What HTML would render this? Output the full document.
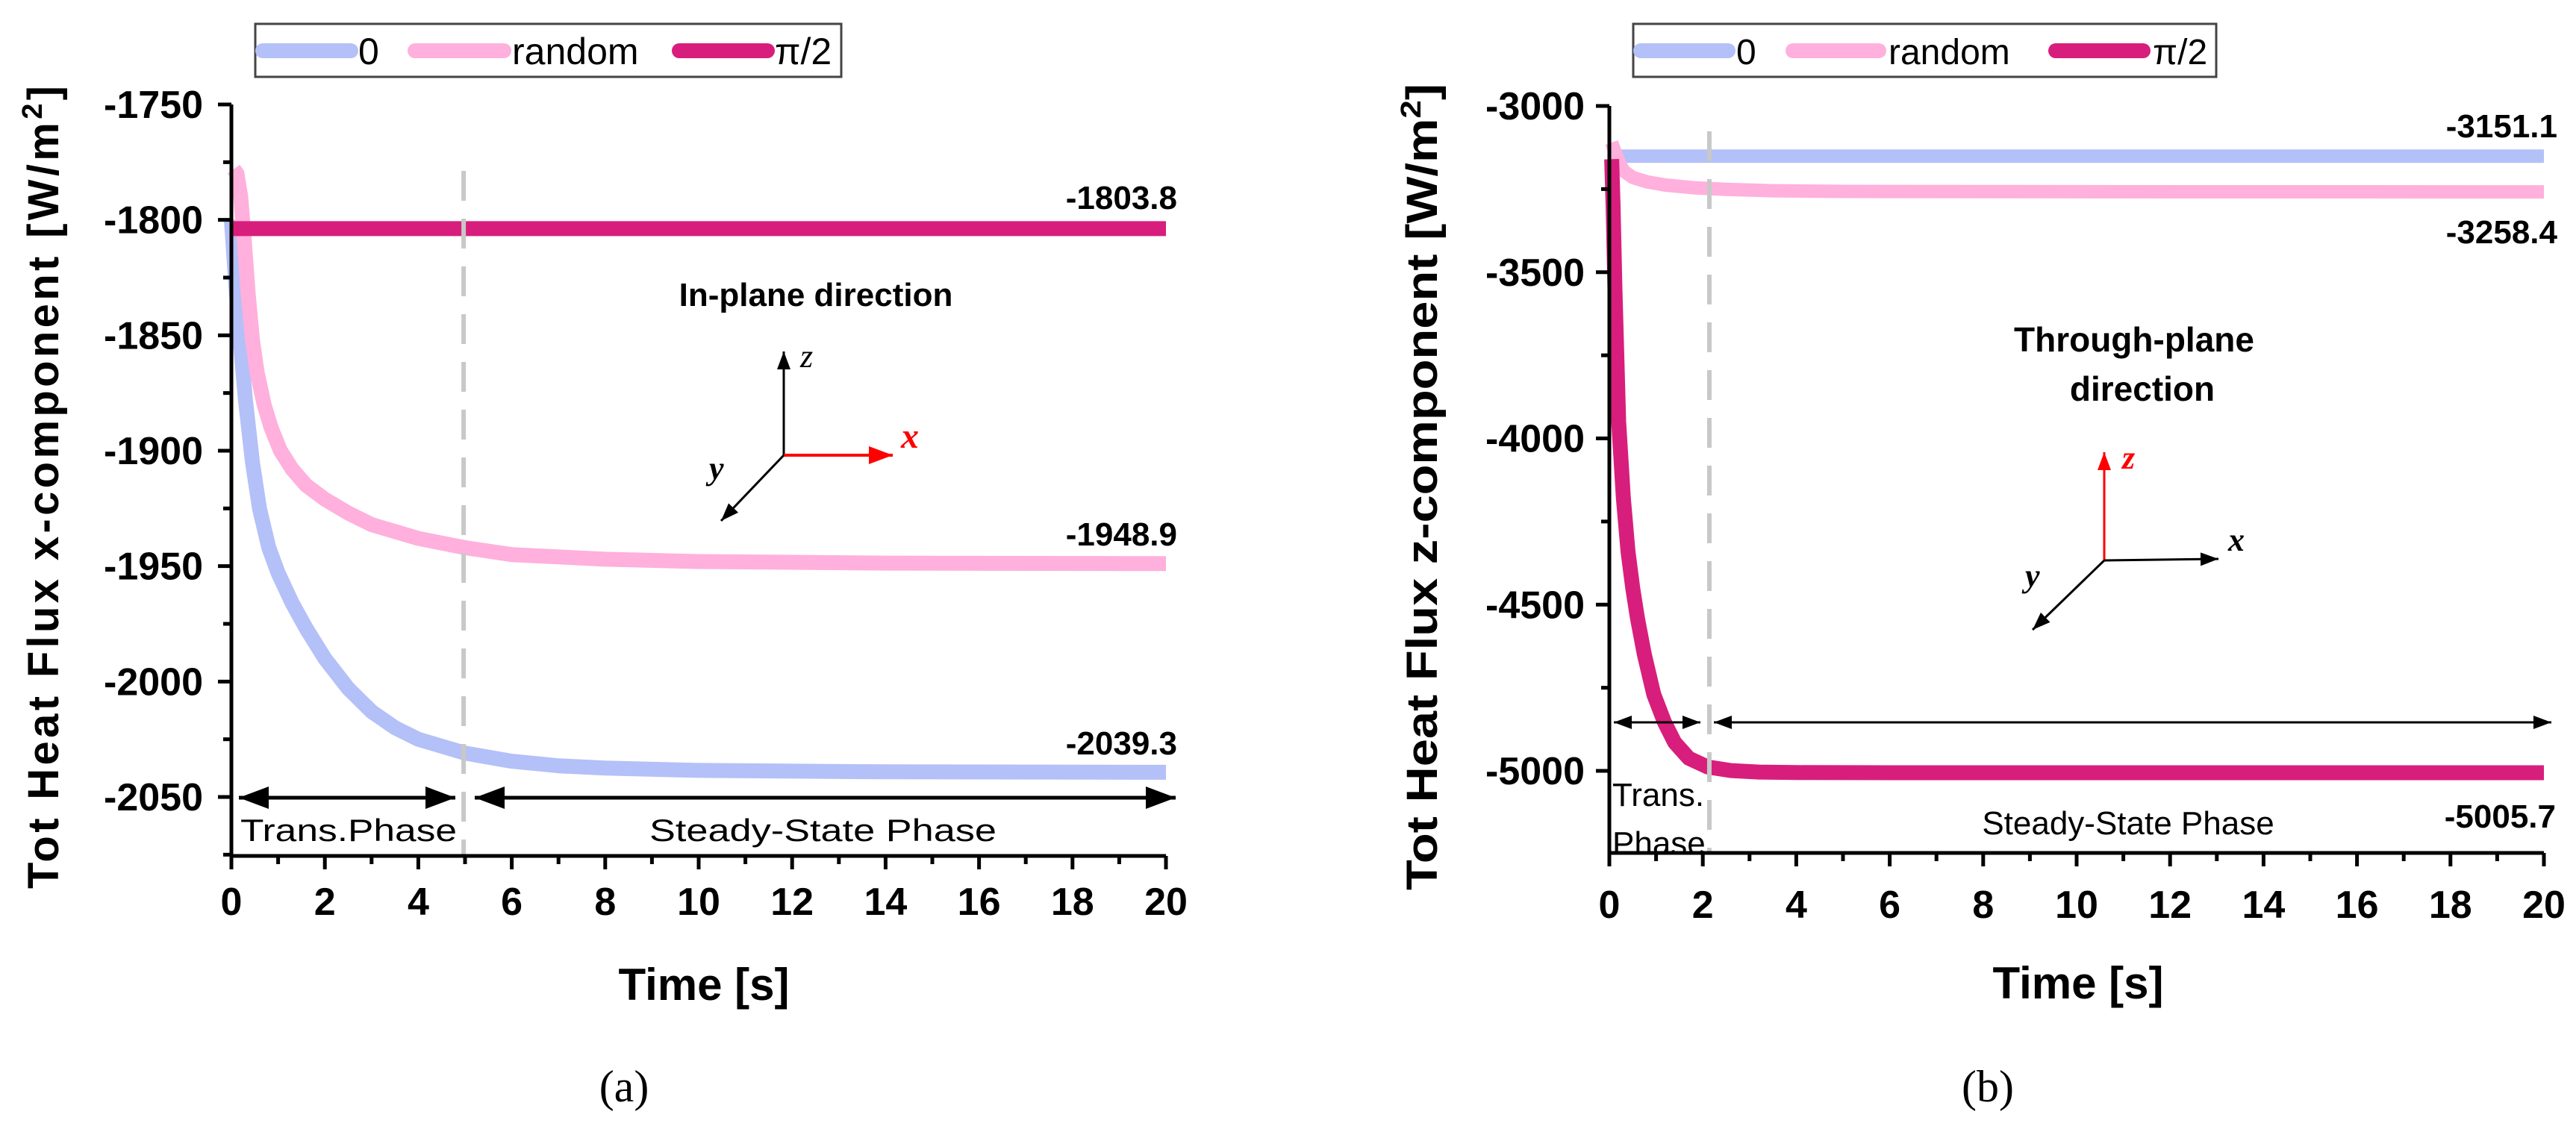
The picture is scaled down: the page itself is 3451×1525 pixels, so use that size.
<!DOCTYPE html>
<html><head><meta charset="utf-8"><style>
html,body{margin:0;padding:0;background:#fff;}
svg{display:block;font-family:"Liberation Sans",sans-serif;}
</style></head><body>
<svg id="fig" width="3451" height="1525" viewBox="0 0 3451 1525" xmlns="http://www.w3.org/2000/svg">
<g id="pa"></g>
<g id="pb"></g>
</svg>
<script>
// ---- Panel (a) data ----
const xTicks = [0,2,4,6,8,10,12,14,16,18,20];
const yTicksA = [-1750,-1800,-1850,-1900,-1950,-2000,-2050];
const tA0 = [0,0.1,0.2,0.3,0.45,0.6,0.8,1.0,1.3,1.6,2.0,2.5,3.0,3.5,4.0,5.0,6.0,7.0,8.0,10,14,20];
const vA0 = [-1800,-1830,-1855,-1878,-1905,-1925,-1942,-1953,-1966,-1977,-1990,-2003,-2013,-2020,-2025,-2031,-2034.5,-2036.5,-2037.5,-2038.5,-2039.1,-2039.3];
const tARand = [0.05,0.12,0.2,0.28,0.36,0.45,0.55,0.7,0.85,1.05,1.3,1.6,2.0,2.5,3.0,4.0,5.0,6.0,8.0,10,14,20];
const vARand = [-1778,-1780,-1790,-1810,-1832,-1852,-1866,-1880,-1890,-1900,-1908,-1915,-1921,-1927,-1932,-1938,-1942,-1945,-1947,-1948,-1948.7,-1948.9];
const tAPi = [0,20];
const vAPi = [-1803.8,-1803.8];
// ---- Panel (b) data ----
const yTicksB = [-3000,-3500,-4000,-4500,-5000];
const tB0 = [0.15,20];
const vB0 = [-3151.1,-3151.1];
const tBRand = [0.05,0.15,0.3,0.5,0.8,1.2,1.8,2.5,3.5,5,10,20];
const vBRand = [-3110,-3150,-3195,-3215,-3228,-3238,-3246,-3251,-3255,-3257,-3258,-3258.4];
const tBPi = [0.05,0.08,0.12,0.2,0.3,0.4,0.5,0.6,0.75,0.95,1.18,1.4,1.7,2.1,2.6,3.2,4,6,20];
const vBPi = [-3160,-3300,-3550,-3950,-4180,-4340,-4450,-4540,-4650,-4770,-4854,-4915,-4962,-4988,-4999,-5003.5,-5005.2,-5005.7,-5005.7];

const NS='http://www.w3.org/2000/svg';
const C0='#b4c0f8', CR='#ffb0dc', CP='#d81e7c';
function mk(parent,tag,attrs,text){const e=document.createElementNS(NS,tag);for(const k in attrs)e.setAttribute(k,attrs[k]);if(text!==undefined)e.textContent=text;parent.appendChild(e);return e;}

function panel(g,cfg){
  const sx=t=>cfg.x0+(t-0)/(20-0)*(cfg.x1-cfg.x0);
  const sy=v=>cfg.yTop+(cfg.vTop-v)/(cfg.vTop-cfg.vBot)*(cfg.yBot-cfg.yTop);
  const yAxisBottom=cfg.axisBottom;
  cfg.series.forEach(s=>{
    const pts=s.t.map((t,i)=>sx(t).toFixed(1)+','+sy(s.v[i]).toFixed(1)).join(' ');
    const p=mk(g,'polyline',{points:pts,fill:'none',stroke:s.c,'stroke-width':s.w,'stroke-linejoin':'round'});
    
    
  });
  const d=mk(g,'line',{x1:sx(cfg.div),x2:sx(cfg.div),y1:cfg.divTop,y2:yAxisBottom,stroke:'#c8c8c8','stroke-width':6,'stroke-dasharray':'40 24'});
  
  
  const ax=mk(g,'path',{d:`M${cfg.x0},${sy(cfg.vTop)} V${yAxisBottom} H${cfg.x1}`,fill:'none',stroke:'#000','stroke-width':5});
  
  
  for(let t=0;t<=20;t+=1){
    const maj=t%2===0;
    const tk=mk(g,'line',{x1:sx(t),x2:sx(t),y1:yAxisBottom,y2:yAxisBottom+(maj?18:11),stroke:'#000','stroke-width':5});
    
    
  }
  xTicks.forEach(t=>{
    const l=mk(g,'text',{x:sx(t),y:cfg.xLabelY,'text-anchor':'middle','font-size':52,'font-weight':'bold'},String(t));
    
    
  });
  const step=cfg.yTicks[0]-cfg.yTicks[1];
  cfg.yTicks.forEach((v,i)=>{
    const tk=mk(g,'line',{x1:cfg.x0-18,x2:cfg.x0,y1:sy(v),y2:sy(v),stroke:'#000','stroke-width':5});
    
    
    const mv=v-step/2;
    if(sy(mv)<yAxisBottom){
      const mt=mk(g,'line',{x1:cfg.x0-11,x2:cfg.x0,y1:sy(mv),y2:sy(mv),stroke:'#000','stroke-width':5});
      
      
    }
    const l=mk(g,'text',{x:cfg.yLabelX,y:sy(v)+18,'text-anchor':'end','font-size':52,'font-weight':'bold'},String(v));
    
    
  });
}

const ga=document.getElementById('pa');
panel(ga,{x0:310,x1:1562,yTop:140,yBot:1068,vTop:-1750,vBot:-2050,axisBottom:1147,xLabelY:1226,yLabelX:272,yTicks:yTicksA,div:4.97,divTop:229,
  series:[{t:tA0,v:vA0,c:C0,w:20,name:'series-0'},{t:tARand,v:vARand,c:CR,w:20,name:'series-random'},{t:tAPi,v:vAPi,c:CP,w:20,name:'series-pi-half'}]});
const gb=document.getElementById('pb');
panel(gb,{x0:2156,x1:3408,yTop:142,yBot:1033,vTop:-3000,vBot:-5000,axisBottom:1143,xLabelY:1230,yLabelX:2123,yTicks:yTicksB,div:2.14,divTop:176,
  series:[{t:tB0,v:vB0,c:C0,w:18,name:'series-0'},{t:tBRand,v:vBRand,c:CR,w:18,name:'series-random'},{t:tBPi,v:vBPi,c:CP,w:20,name:'series-pi-half'}]});
</script>

<svg width="3451" height="1525" viewBox="0 0 3451 1525" style="position:absolute;left:0;top:0" font-family="Liberation Sans, sans-serif">
<defs>
<marker id="a1" markerWidth="8" markerHeight="6" refX="8" refY="3" orient="auto" markerUnits="strokeWidth"><path d="M0,0 L8,3 L0,6 z" fill="#000"/></marker>
<marker id="a2" markerWidth="8" markerHeight="6" refX="0" refY="3" orient="auto" markerUnits="strokeWidth"><path d="M8,0 L0,3 L8,6 z" fill="#000"/></marker>
<marker id="a3" markerWidth="8" markerHeight="6" refX="8" refY="3" orient="auto" markerUnits="strokeWidth"><path d="M0,0 L8,3 L0,6 z" fill="#f00"/></marker>
</defs>
<g>
<rect x="342" y="32" width="785" height="71" fill="#fff" stroke="#444" stroke-width="3"/>
<line x1="352" y1="68" x2="470" y2="68" stroke="#b4c0f8" stroke-width="20" stroke-linecap="round"/>
<text x="480" y="86" font-size="50">0</text>
<line x1="556" y1="68" x2="675" y2="68" stroke="#ffb0dc" stroke-width="20" stroke-linecap="round"/>
<text x="686" y="86" font-size="50">random</text>
<line x1="910" y1="68" x2="1028" y2="68" stroke="#d81e7c" stroke-width="20" stroke-linecap="round"/>
<text x="1038" y="86" font-size="50">π/2</text>
</g>
<text x="1577" y="280" font-size="44" font-weight="bold" text-anchor="end">-1803.8</text>
<text x="1577" y="731" font-size="44" font-weight="bold" text-anchor="end">-1948.9</text>
<text x="1577" y="1011" font-size="44" font-weight="bold" text-anchor="end">-2039.3</text>
<text x="1093" y="410" font-size="44" font-weight="bold" text-anchor="middle">In-plane direction</text>
<g>
<line x1="1050" y1="610" x2="1050" y2="471" stroke="#000" stroke-width="3" marker-end="url(#a1)"/>
<line x1="1050" y1="610" x2="1196" y2="610" stroke="#f00" stroke-width="4" marker-end="url(#a3)"/>
<line x1="1050" y1="610" x2="966" y2="698" stroke="#000" stroke-width="3" marker-end="url(#a1)"/>
<text x="1072" y="492" font-size="44" font-style="italic" font-family="Liberation Serif, serif">z</text>
<text x="1207" y="600" font-size="48" font-style="italic" font-weight="bold" fill="#f00" font-family="Liberation Serif, serif">x</text>
<text x="950" y="642" font-size="44" font-style="italic" font-weight="bold" font-family="Liberation Serif, serif">y</text>
</g>
<line x1="320" y1="1069" x2="610" y2="1069" stroke="#000" stroke-width="5" marker-start="url(#a2)" marker-end="url(#a1)"/>
<line x1="636" y1="1069" x2="1575" y2="1069" stroke="#000" stroke-width="5" marker-start="url(#a2)" marker-end="url(#a1)"/>
<text x="322" y="1127" font-size="42" textLength="290" lengthAdjust="spacingAndGlyphs">Trans.Phase</text>
<text x="870" y="1127" font-size="42" textLength="465" lengthAdjust="spacingAndGlyphs">Steady-State Phase</text>
<text x="943" y="1340" font-size="60" font-weight="bold" text-anchor="middle">Time [s]</text>
<text x="836" y="1476" font-size="60" font-family="Liberation Serif, serif" text-anchor="middle">(a)</text>
<text transform="translate(78,1191) rotate(-90)" font-size="58" font-weight="bold" textLength="1076" lengthAdjust="spacing">Tot Heat Flux x-component [W/m<tspan font-size="38" dy="-22">2</tspan><tspan dy="22">]</tspan></text>

<g>
<rect x="2188" y="32" width="781" height="71" fill="#fff" stroke="#444" stroke-width="3"/>
<line x1="2198" y1="68" x2="2315" y2="68" stroke="#b4c0f8" stroke-width="20" stroke-linecap="round"/>
<text x="2326" y="86" font-size="48">0</text>
<line x1="2402" y1="68" x2="2517" y2="68" stroke="#ffb0dc" stroke-width="20" stroke-linecap="round"/>
<text x="2530" y="86" font-size="48">random</text>
<line x1="2754" y1="68" x2="2871" y2="68" stroke="#d81e7c" stroke-width="20" stroke-linecap="round"/>
<text x="2884" y="86" font-size="48">π/2</text>
</g>
<text x="3426" y="184" font-size="44" font-weight="bold" text-anchor="end">-3151.1</text>
<text x="3426" y="326" font-size="44" font-weight="bold" text-anchor="end">-3258.4</text>
<text x="3424" y="1109" font-size="44" font-weight="bold" text-anchor="end">-5005.7</text>
<text x="2859" y="471" font-size="46" font-weight="bold" text-anchor="middle">Through-plane</text>
<text x="2870" y="537" font-size="46" font-weight="bold" text-anchor="middle">direction</text>
<g>
<line x1="2819" y1="751" x2="2819" y2="606" stroke="#f00" stroke-width="3" marker-end="url(#a3)"/>
<line x1="2819" y1="751" x2="2972" y2="749" stroke="#000" stroke-width="3" marker-end="url(#a1)"/>
<line x1="2819" y1="751" x2="2723" y2="844" stroke="#000" stroke-width="3" marker-end="url(#a1)"/>
<text x="2843" y="628" font-size="44" font-style="italic" font-weight="bold" fill="#f00" font-family="Liberation Serif, serif">z</text>
<text x="2985" y="738" font-size="44" font-style="italic" font-weight="bold" font-family="Liberation Serif, serif">x</text>
<text x="2713" y="786" font-size="44" font-style="italic" font-weight="bold" font-family="Liberation Serif, serif">y</text>
</g>
<line x1="2162" y1="968" x2="2278" y2="968" stroke="#000" stroke-width="3" marker-start="url(#a2)" marker-end="url(#a1)"/>
<line x1="2296" y1="968" x2="3418" y2="968" stroke="#000" stroke-width="3" marker-start="url(#a2)" marker-end="url(#a1)"/>
<text x="2160" y="1080" font-size="44">Trans.</text>
<text x="2160" y="1145" font-size="44">Phase</text>
<text x="2851" y="1118" font-size="44" text-anchor="middle">Steady-State Phase</text>
<text x="2784" y="1338" font-size="60" font-weight="bold" text-anchor="middle">Time [s]</text>
<text x="2663" y="1476" font-size="60" font-family="Liberation Serif, serif" text-anchor="middle">(b)</text>
<text transform="translate(1925,1193) rotate(-90)" font-size="58" font-weight="bold" textLength="1081" lengthAdjust="spacingAndGlyphs">Tot Heat Flux z-component [W/m<tspan font-size="38" dy="-22">2</tspan><tspan dy="22">]</tspan></text>
</svg>
</body></html>
